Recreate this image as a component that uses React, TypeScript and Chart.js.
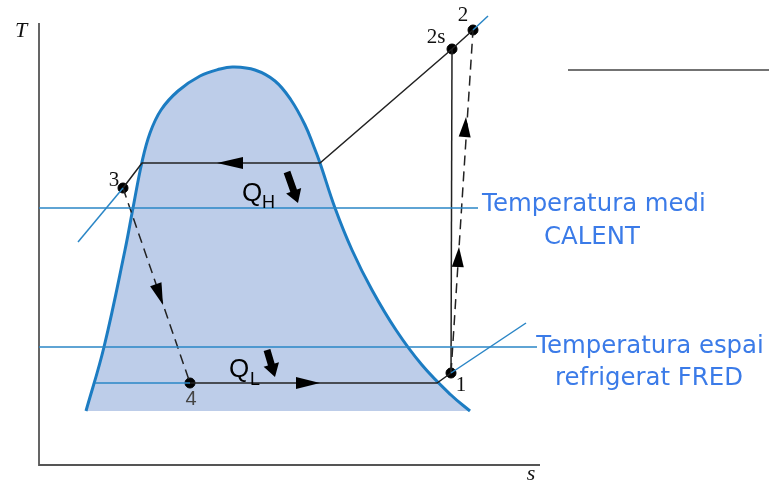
import React, { useEffect, useRef } from "react";
import { Chart, registerables } from "chart.js";
Chart.register(...registerables);

// Saturation dome (s, T in diagram units; T grows downward on a reversed axis)
const domeS = [86, 104, 125, 133, 142, 150, 161, 178, 200, 220, 233, 255, 275, 291, 305, 314, 320, 335, 352, 372, 396, 422, 451, 470];
const domeT = [411, 347, 250, 208, 162, 133, 110, 91, 76, 69, 67, 70, 81, 100, 125, 147, 163, 208, 250, 290, 330, 365, 395, 411];
const domeBase = 411;

// State points
const stateNames = ["1", "2s", "2", "3", "4"];
const stateS = [451, 452, 473, 123, 190];
const stateT = [373, 49, 30, 188, 383];

// Cycle paths
const condS = [123, 142, 320, 452, 473];
const condT = [188, 163, 163, 49, 30];
const isenS = [452, 451];
const isenT = [49, 373];
const evapS = [451, 437, 190];
const evapT = [373, 383, 383];
const compS = [451, 473];
const compT = [373, 30];
const expS = [123, 190];
const expT = [188, 383];

// Medium temperature lines
const hotS = [39, 478];
const hotT = [208, 208];
const coldS = [39, 537];
const coldT = [347, 347];

// Isobar extensions
const iso3S = [78, 123];
const iso3T = [242, 188];
const iso4S = [95, 190];
const iso4T = [383, 383];
const iso1S = [451, 526];
const iso1T = [373, 323];
const iso2S = [473, 488];
const iso2T = [30, 16];

// Axes and extra line
const axisS = [39, 39, 540];
const axisT = [23, 465, 465];
const extraS = [568, 769];
const extraT = [70, 70];

// Arrowheads on the process lines (tip and base)
const arrowTipS = [217, 320, 466, 459, 163];
const arrowTipT = [163, 383, 117, 247, 305];
const arrowBaseS = [243, 296, 464.7, 457.8, 155.8];
const arrowBaseT = [163, 383, 137, 267, 284.2];

// Heat-flow block arrows
const qTailS = [287, 267];
const qTailT = [172, 350];
const qTipS = [298, 275];
const qTipT = [203, 377];

// Labels
const serifLabels = ["2", "2s", "3", "1"];
const serifLabelS = [463, 436, 114, 461];
const serifLabelT = [15, 37, 180, 385];
const blueLabels = ["Temperatura medi", "CALENT", "Temperatura espai", "refrigerat FRED"];
const blueLabelS = [594, 592, 650, 649];
const blueLabelT = [205, 238, 347, 379];

const BLUE = "#2a86c6";
const BLACK = "#222";

const pts = (xs: number[], ys: number[]) => xs.map((x, i) => ({ x, y: ys[i] }));

function line(xs: number[], ys: number[], color: string, width: number, dash: number[] = []) {
  return {
    type: "line" as const,
    data: pts(xs, ys),
    borderColor: color,
    borderWidth: width,
    borderDash: dash,
    pointRadius: 0,
    showLine: true,
    fill: false,
    tension: 0,
  };
}

const overlay = {
  id: "overlay",
  afterDatasetsDraw(chart: any) {
    const ctx = chart.ctx as CanvasRenderingContext2D;
    const xs = chart.scales.x;
    const ys = chart.scales.y;
    const px = (v: number) => xs.getPixelForValue(v);
    const py = (v: number) => ys.getPixelForValue(v);
    ctx.save();
    // arrowheads
    ctx.fillStyle = "#000";
    for (let i = 0; i < arrowTipS.length; i++) {
      const tx = px(arrowTipS[i]), ty = py(arrowTipT[i]);
      const bx = px(arrowBaseS[i]), by = py(arrowBaseT[i]);
      const dx = tx - bx, dy = ty - by;
      const len = Math.hypot(dx, dy);
      const nx = -dy / len, ny = dx / len;
      const hw = 6;
      ctx.beginPath();
      ctx.moveTo(tx, ty);
      ctx.lineTo(bx + nx * hw, by + ny * hw);
      ctx.lineTo(bx - nx * hw, by - ny * hw);
      ctx.closePath();
      ctx.fill();
    }
    // block arrows
    for (let i = 0; i < qTailS.length; i++) {
      const ax = px(qTailS[i]), ay = py(qTailT[i]);
      const bx = px(qTipS[i]), by = py(qTipT[i]);
      const dx = bx - ax, dy = by - ay;
      const len = Math.hypot(dx, dy);
      const ux = dx / len, uy = dy / len;
      const nx = -uy, ny = ux;
      const sw = 3.5, hw = 8, hl = 13;
      const hx = bx - ux * hl, hy = by - uy * hl;
      ctx.beginPath();
      ctx.moveTo(ax + nx * sw, ay + ny * sw);
      ctx.lineTo(hx + nx * sw, hy + ny * sw);
      ctx.lineTo(hx + nx * hw, hy + ny * hw);
      ctx.lineTo(bx, by);
      ctx.lineTo(hx - nx * hw, hy - ny * hw);
      ctx.lineTo(hx - nx * sw, hy - ny * sw);
      ctx.lineTo(ax - nx * sw, ay - ny * sw);
      ctx.closePath();
      ctx.fill();
    }
    // serif labels
    ctx.textAlign = "center";
    ctx.textBaseline = "middle";
    ctx.fillStyle = "#111";
    ctx.font = "21px 'Liberation Serif', 'DejaVu Serif', serif";
    for (let i = 0; i < serifLabels.length; i++) {
      ctx.fillText(serifLabels[i], px(serifLabelS[i]), py(serifLabelT[i]));
    }
    ctx.font = "italic 22px 'Liberation Serif', serif";
    ctx.fillText("T", px(21), py(31));
    ctx.fillText("s", px(531), py(474));
    ctx.fillStyle = "#444";
    ctx.font = "20px 'Liberation Sans', Arial, sans-serif";
    ctx.fillText("4", px(191), py(399));
    // Q labels
    ctx.fillStyle = "#000";
    ctx.textAlign = "left";
    ctx.textBaseline = "alphabetic";
    ctx.font = "26px 'Liberation Sans', Arial, sans-serif";
    ctx.fillText("Q", px(242), py(201));
    ctx.fillText("Q", px(229), py(377));
    ctx.font = "18px 'Liberation Sans', Arial, sans-serif";
    ctx.fillText("H", px(262), py(208));
    ctx.fillText("L", px(250), py(385));
    // blue labels
    ctx.textAlign = "center";
    ctx.textBaseline = "middle";
    ctx.fillStyle = "#3b7be8";
    ctx.font = "24.4px 'DejaVu Sans', sans-serif";
    for (let i = 0; i < blueLabels.length; i++) {
      ctx.fillText(blueLabels[i], px(blueLabelS[i]), py(blueLabelT[i]));
    }
    ctx.restore();
  },
};

const whiteBg = {
  id: "whiteBg",
  beforeDraw(chart: any) {
    const ctx = chart.ctx;
    ctx.save();
    ctx.fillStyle = "#fff";
    ctx.fillRect(0, 0, chart.width, chart.height);
    ctx.restore();
  },
};

export default function App() {
  const ref = useRef<HTMLCanvasElement | null>(null);
  useEffect(() => {
    if (!ref.current) return;
    const chart = new Chart(ref.current, {
      type: "scatter",
      data: {
        datasets: [
          {
            type: "line",
            data: pts(domeS, domeT),
            borderColor: "#1c7cc2",
            borderWidth: 3,
            backgroundColor: "#bdcde9",
            fill: { value: domeBase },
            pointRadius: 0,
            tension: 0.4,
            order: 10,
          } as any,
          line(hotS, hotT, BLUE, 1.5),
          line(coldS, coldT, BLUE, 1.5),
          line(iso3S, iso3T, BLUE, 1.5),
          line(iso4S, iso4T, BLUE, 1.5),
          line(iso1S, iso1T, BLUE, 1.5),
          line(iso2S, iso2T, BLUE, 1.5),
          line(axisS, axisT, "#555", 1.8),
          line(extraS, extraT, "#444", 1.5),
          line(condS, condT, BLACK, 1.5),
          line(isenS, isenT, BLACK, 1.5),
          line(evapS, evapT, BLACK, 1.5),
          line(compS, compT, BLACK, 1.5, [10, 6]),
          line(expS, expT, BLACK, 1.5, [10, 6]),
          {
            type: "scatter",
            label: "states",
            data: pts(stateS, stateT).map((p, i) => ({ ...p, name: stateNames[i] })),
            backgroundColor: "#000",
            borderColor: "#000",
            pointRadius: 5,
            showLine: false,
          } as any,
        ],
      },
      options: {
        animation: false,
        responsive: false,
        maintainAspectRatio: false,
        layout: { padding: 0, autoPadding: false },
        clip: false as any,
        scales: {
          x: { type: "linear", min: 0, max: 769, display: false },
          y: { type: "linear", min: 0, max: 486, reverse: true, display: false },
        },
        plugins: { legend: { display: false }, tooltip: { enabled: false } },
      },
      plugins: [whiteBg, overlay],
    });
    return () => chart.destroy();
  }, []);
  return (
    <div style={{ position: "absolute", left: 0, top: 0, width: 769, height: 486 }}>
      <canvas ref={ref} width={769} height={486} style={{ width: 769, height: 486, display: "block" }} />
    </div>
  );
}
